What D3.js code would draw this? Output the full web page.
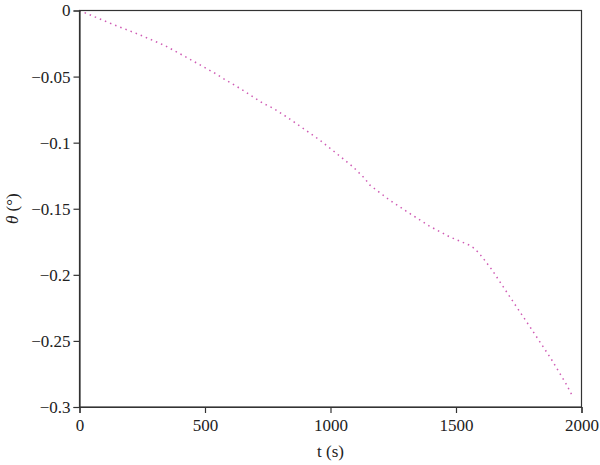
<!DOCTYPE html>
<html>
<head>
<meta charset="utf-8">
<script src="https://cdn.jsdelivr.net/npm/d3@7"></script>
<style>
  html, body { margin: 0; padding: 0; background: #fff; }
  svg { display: block; }
  text { font-family: "Liberation Serif", "Times New Roman", serif; fill: #222; }
</style>
</head>
<body>
<div id="chart"></div>
<script>
// Data
const timeS = [0, 128, 234, 340, 420, 539, 575, 638, 731, 771, 824, 904, 957, 1023, 1089, 1136, 1156, 1235, 1315, 1394, 1474, 1553, 1573, 1586, 1604, 1644, 1719, 1799, 1878, 1938, 1964];
const thetaDeg = [0, -0.0101, -0.0179, -0.0265, -0.0348, -0.0474, -0.0517, -0.0588, -0.0702, -0.0739, -0.0803, -0.0909, -0.0980, -0.1080, -0.1182, -0.1270, -0.1320, -0.1434, -0.1535, -0.1631, -0.1712, -0.1775, -0.1800, -0.1826, -0.1864, -0.1964, -0.2179, -0.2406, -0.2633, -0.2823, -0.2917];
const xTicks = [0, 500, 1000, 1500, 2000];
const yTicks = [0, -0.05, -0.1, -0.15, -0.2, -0.25, -0.3];
const yTickLabels = ["0", "\u22120.05", "\u22120.1", "\u22120.15", "\u22120.2", "\u22120.25", "\u22120.3"];

const W = 600, H = 465;
const margin = { left: 79.5, right: 18.5, top: 10.5, bottom: 58 };
const iw = W - margin.left - margin.right;
const ih = H - margin.top - margin.bottom;

const svg = d3.select("#chart").append("svg")
  .attr("width", W).attr("height", H);

const g = svg.append("g").attr("transform", `translate(${margin.left},${margin.top})`);

const x = d3.scaleLinear().domain([0, 2000]).range([0, iw]);
const y = d3.scaleLinear().domain([-0.3, 0]).range([ih, 0]);

// line
const pts = timeS.map((t, i) => [t, thetaDeg[i]]);
g.append("path")
  .datum(pts)
  .attr("fill", "none")
  .attr("stroke", "#cf5bb4")
  .attr("stroke-width", 1.5)
  .attr("stroke-dasharray", "1.5,4")
  .attr("d", d3.line().x(d => x(d[0])).y(d => y(d[1])));

// box
g.append("rect")
  .attr("x", 0).attr("y", 0).attr("width", iw).attr("height", ih)
  .attr("fill", "none").attr("stroke", "#333").attr("stroke-width", 1.2);

// axes
const xAxis = g.append("g").attr("transform", `translate(0,${ih})`)
  .call(d3.axisBottom(x).tickValues(xTicks).tickFormat(d3.format("d")).tickSize(6).tickPadding(6));
const yAxis = g.append("g")
  .call(d3.axisLeft(y).tickValues(yTicks).tickFormat((d, i) => yTickLabels[i]).tickSize(6).tickPadding(3));

[xAxis, yAxis].forEach(a => {
  a.attr("font-family", null);
  a.select(".domain").attr("stroke", "#333").attr("stroke-width", 1.2);
  a.selectAll(".tick line").attr("stroke", "#333").attr("stroke-width", 1.2);
  a.selectAll(".tick text")
    .style("font-family", "'Liberation Serif', serif")
    .attr("font-size", 17).attr("fill", "#222");
});

// axis labels
svg.append("text")
  .attr("x", margin.left + iw / 2).attr("y", 457)
  .attr("text-anchor", "middle").attr("font-size", 17)
  .text("t (s)");

const yl = svg.append("text")
  .attr("transform", `translate(18,${margin.top + ih / 2}) rotate(-90)`)
  .attr("text-anchor", "middle").attr("font-size", 17);
yl.append("tspan").attr("font-style", "italic").text("\u03B8");
yl.append("tspan").text(" (\u00B0)");
</script>
</body>
</html>
